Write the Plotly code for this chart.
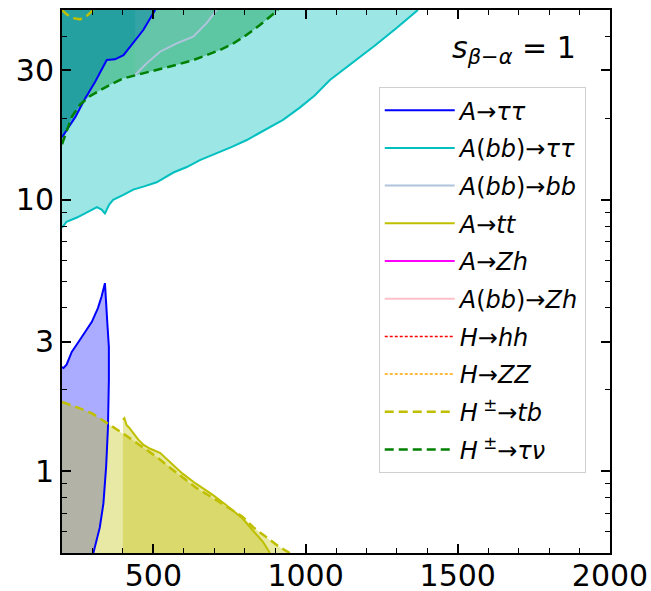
import math
import plotly.graph_objects as go

X_RANGE = [200, 2000]
Y_RANGE = [0.5, 50]

# ---- data (mA in GeV, tan(beta)) ----
# A(bb) -> tautau : excluded above the line
abbtt_m = [200, 215, 249, 290, 315, 330, 341, 355, 368, 400, 434, 470, 511, 566, 610, 653, 700,
           760, 807, 870, 926, 980, 1030, 1080, 1130, 1180, 1228, 1300, 1369]
abbtt_t = [7.9, 8.3, 8.6, 9.1, 9.4, 9.2, 8.9, 9.6, 10.0, 10.4, 10.9, 11.2, 11.6, 12.6, 13.2, 14.0, 14.7,
           15.7, 16.6, 18.2, 19.7, 21.8, 24.2, 27.6, 30.5, 33.5, 37.0, 43.0, 50.0]

# H+- -> tau nu : excluded above the line
htn_m = [200, 210, 232, 259, 290, 325, 360, 402, 456, 522, 580, 631, 680, 719, 760, 800, 850, 880, 910]
htn_t = [16.0, 17.3, 20.2, 22.4, 24.0, 25.3, 26.6, 28.0, 29.0, 30.2, 31.5, 32.7, 34.2, 35.6, 37.5,
         40.0, 44.0, 46.8, 50.0]

# A -> tautau, high tan(beta) branch : excluded above (left of) the line
att_hi_m = [200, 211, 244, 275, 309, 347, 374, 402, 423, 467, 506]
att_hi_t = [17.0, 17.8, 20.2, 23.5, 27.2, 32.7, 32.9, 34.1, 36.6, 42.2, 50.0]

# A -> tautau, low tan(beta) island
att_lo_m = [200, 205, 215, 232, 259, 280, 298, 318, 330, 341, 345, 349, 354, 354, 351, 345, 336, 324, 303]
att_lo_t = [2.42, 2.40, 2.47, 2.75, 3.05, 3.3, 3.55, 3.99, 4.4, 4.93, 4.3, 3.5, 2.87, 2.17, 1.45, 1.04,
            0.76, 0.62, 0.5]

# A(bb) -> bb : excluded above the line
abbbb_m = [440, 478, 522, 577, 631, 675, 708]
abbbb_t = [28.8, 31.8, 35.1, 37.7, 39.9, 44.7, 50.0]

# A -> tt : excluded below the line (mA >= 400)
att_tt_m = [400, 405, 412, 420, 435, 450, 468, 490, 522, 555, 596, 640, 694, 740, 793, 830, 860, 883]
att_tt_t = [1.55, 1.57, 1.48, 1.45, 1.38, 1.31, 1.25, 1.21, 1.17, 1.08, 0.98, 0.90, 0.82, 0.75, 0.67,
            0.60, 0.55, 0.5]

# H+- -> tb : excluded below the line
htb_m = [200, 250, 300, 347, 400, 450, 511, 550, 596, 640, 694, 740, 793, 830, 872, 910, 948]
htb_t = [1.80, 1.72, 1.63, 1.51, 1.38, 1.26, 1.13, 1.04, 0.95, 0.87, 0.80, 0.74, 0.68, 0.62,
         0.57, 0.53, 0.5]
# H+- -> tb, small high tan(beta) piece
htb_hi_m = [200, 215, 236, 259, 285, 302]
htb_hi_t = [50.0, 48.2, 46.7, 46.2, 47.9, 50.0]

x_ticks = [500, 1000, 1500, 2000]
y_ticks = [1, 3, 10, 30]
y_ticktext = ["1", "3", "10", "30"]
y_minor = [0.6, 0.7, 0.8, 0.9, 2, 4, 5, 6, 7, 8, 9, 20, 40]

legend_names = ["<i>A</i>→<i>ττ</i>", "<i>A</i>(<i>bb</i>)→<i>ττ</i>", "<i>A</i>(<i>bb</i>)→<i>bb</i>",
                "<i>A</i>→<i>tt</i>", "<i>A</i>→<i>Zh</i>", "<i>A</i>(<i>bb</i>)→<i>Zh</i>",
                "<i>H</i>→<i>hh</i>", "<i>H</i>→<i>ZZ</i>", "<i>H</i><sup> ±</sup>→<i>tb</i>",
                "<i>H</i><sup> ±</sup>→<i>τν</i>"]

C_BLUE = "#0000ff"
C_CYAN = "#00bfbf"
C_LSB = "#b0c4de"
C_Y = "#bfbf00"
C_MAG = "#ff00ff"
C_PINK = "#ffc0cb"
C_RED = "#ff0000"
C_ORANGE = "#ffa500"
C_GREEN = "#008000"

ymax = Y_RANGE[1]
ymin = Y_RANGE[0]

fig = go.Figure()


def fill(xs, ys, color):
    fig.add_trace(go.Scatter(x=xs, y=ys, fill="toself", fillcolor=color, mode="lines",
                             line=dict(width=0), showlegend=False, hoverinfo="skip"))


# ---- fills (upper region) ----
fill(abbtt_m + [200], abbtt_t + [ymax], "rgba(0,191,191,0.39)")
fill(htn_m + [200], htn_t + [ymax], "rgba(0,150,60,0.40)")
fill(att_hi_m + [200], att_hi_t + [ymax], "rgba(0,135,158,0.6)")
fill([abbbb_m[0]] + abbbb_m, [ymax] + abbbb_t, "rgba(176,196,222,0.10)")

# ---- fills (lower region) ----
fill([200] + att_lo_m, [ymin] + att_lo_t, "rgba(0,0,255,0.33)")
fill([200] + htb_m, [ymin] + htb_t, "rgba(191,191,0,0.35)")
fill([att_tt_m[0]] + att_tt_m, [ymin] + att_tt_t, "rgba(191,191,0,0.35)")


def line(xs, ys, color, width, dash, name=None, show=False):
    fig.add_trace(go.Scatter(x=xs, y=ys, mode="lines", line=dict(color=color, width=width, dash=dash),
                             name=name, showlegend=show, hoverinfo="skip",
                             legendgroup=name if name else None))


# ---- boundary lines ----
line(att_hi_m, att_hi_t, C_BLUE, 2, "solid", legend_names[0], True)
line(att_lo_m, att_lo_t, C_BLUE, 2, "solid")
line(abbtt_m, abbtt_t, C_CYAN, 2, "solid", legend_names[1], True)
line(abbbb_m, abbbb_t, C_LSB, 2, "solid", legend_names[2], True)
line(att_tt_m, att_tt_t, C_Y, 2, "solid", legend_names[3], True)
line([None], [None], C_MAG, 2, "solid", legend_names[4], True)
line([None], [None], C_PINK, 2, "solid", legend_names[5], True)
line([None], [None], C_RED, 1.5, "3px,2px", legend_names[6], True)
line([None], [None], C_ORANGE, 1.5, "3px,2px", legend_names[7], True)
line(htb_m, htb_t, C_Y, 2.5, "9px,5px", legend_names[8], True)
line(htb_hi_m, htb_hi_t, C_Y, 2.5, "9px,5px")
line(htn_m, htn_t, C_GREEN, 2.5, "9px,5px", legend_names[9], True)

axis_common = dict(showline=True, linecolor="black", linewidth=2, mirror="ticks", ticks="inside",
                   ticklen=9, tickwidth=1.5, tickcolor="black", showgrid=False, zeroline=False,
                   automargin=False,
                   tickfont=dict(family="DejaVu Sans", size=30, color="black"))

fig.update_xaxes(range=X_RANGE, tickvals=x_ticks, ticktext=[str(v) for v in x_ticks],
                 ticklabelstandoff=-5,
                 minor=dict(dtick=100, tick0=0, ticks="inside", ticklen=5, tickwidth=1.2, tickcolor="black",
                            showgrid=False),
                 **axis_common)
fig.update_yaxes(type="log", range=[math.log10(Y_RANGE[0]), math.log10(Y_RANGE[1])],
                 tickvals=y_ticks, ticktext=y_ticktext,
                 minor=dict(tickvals=y_minor, ticks="inside", ticklen=5, tickwidth=1.2, tickcolor="black",
                            showgrid=False),
                 **axis_common)

fig.add_annotation(x=0.825, y=0.928, xref="paper", yref="paper", xanchor="center", yanchor="middle",
                   text="<i>s</i><sub><i>β</i>−<i>α</i></sub> = 1", showarrow=False,
                   font=dict(family="DejaVu Sans", size=30, color="black"))

fig.update_layout(
    width=651, height=591,
    margin=dict(l=62, r=41, t=10, b=38, autoexpand=False),
    plot_bgcolor="white", paper_bgcolor="white",
    legend=dict(x=0.578, y=0.858, xanchor="left", yanchor="top",
                bgcolor="rgba(255,255,255,0.85)", bordercolor="#d0d0d0", borderwidth=1,
                font=dict(family="DejaVu Sans", size=24, color="black"),
                tracegroupgap=3.5, itemwidth=70),
)

fig.write_html("out.html")
